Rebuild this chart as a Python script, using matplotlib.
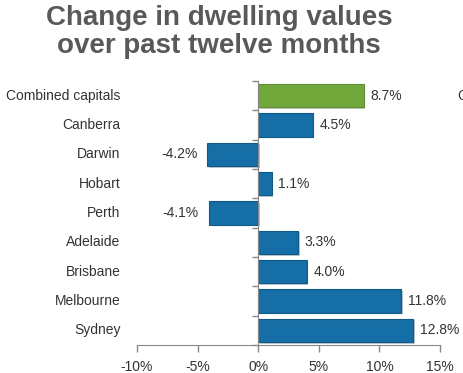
import matplotlib
matplotlib.use("Agg")
import matplotlib.pyplot as plt
import matplotlib.patheffects as pe
import matplotlib.ticker as ticker
import matplotlib.transforms as mtransforms

plt.rcParams["font.family"] = ["Liberation Sans", "DejaVu Sans"]

# Data (top to bottom as drawn)
cities = ["Combined capitals", "Canberra", "Darwin", "Hobart", "Perth",
          "Adelaide", "Brisbane", "Melbourne", "Sydney"]
change = [8.7, 4.5, -4.2, 1.1, -4.1, 3.3, 4.0, 11.8, 12.8]
xticks = [-10, -5, 0, 5, 10, 15]

BLUE = "#156EA5"
GREEN = "#71A73B"
colors = [GREEN] + [BLUE] * (len(cities) - 1)
edges = ["#5E8F30"] + ["#0F5A88"] * (len(cities) - 1)

fig = plt.figure(figsize=(4.64, 3.73), dpi=100)
ax = fig.add_axes([137 / 464, 28 / 373, 303 / 464, 264 / 373])

ypos = list(range(len(cities)))
bars = ax.barh(ypos, change, height=0.8, color=colors, edgecolor=edges, linewidth=0.8)
for b in bars:
    b.set_path_effects([pe.SimplePatchShadow(offset=(1.2, -1.2), alpha=0.25), pe.Normal()])

ax.set_ylim(len(cities) - 0.5, -0.5)
ax.set_xlim(-10, 15)
ax.set_xticks(xticks)
ax.xaxis.set_major_formatter(ticker.FuncFormatter(lambda v, _: f"{v:.0f}%"))
ax.tick_params(axis="x", length=5, width=1, color="#888888", labelsize=10,
               labelcolor="#333333", pad=6)

# vertical axis at 0 with boundary ticks
for s in ["top", "right"]:
    ax.spines[s].set_visible(False)
ax.spines["bottom"].set_color("#888888")
ax.spines["left"].set_position(("data", 0))
ax.spines["left"].set_color("#888888")
ax.set_yticks(ypos)
ax.set_yticklabels([])
ax.tick_params(axis="y", which="major", length=0)
ax.set_yticks([i - 0.5 for i in range(len(cities) + 1)], minor=True)
ax.tick_params(axis="y", which="minor", length=4, width=1, color="#888888")

# category labels, right aligned left of the plot
trans = mtransforms.blended_transform_factory(ax.transAxes, ax.transData)
for y, name in zip(ypos, cities):
    ax.text(-0.055, y, name, transform=trans, ha="right", va="center",
            fontsize=10, color="#333333")

# value labels
for y, v in zip(ypos, change):
    if v >= 0:
        ax.text(v + 0.55, y, f"{v:.1f}%", ha="left", va="center", fontsize=10, color="#333333")
    else:
        ax.text(v - 0.8, y, f"{v:.1f}%", ha="right", va="center", fontsize=10, color="#333333")

fig.text(219 / 464, 1 - 32 / 373, "Change in dwelling values\nover past twelve months",
         ha="center", va="center", fontsize=20, fontweight="bold", color="#595959",
         linespacing=1.08)

# partially cut text at right edge (as in the reference)
fig.text(457 / 464, 1 - 96 / 373, "Capitals", ha="left", va="center",
         fontsize=10, color="#333333")

fig.savefig("out.png", dpi=100)
